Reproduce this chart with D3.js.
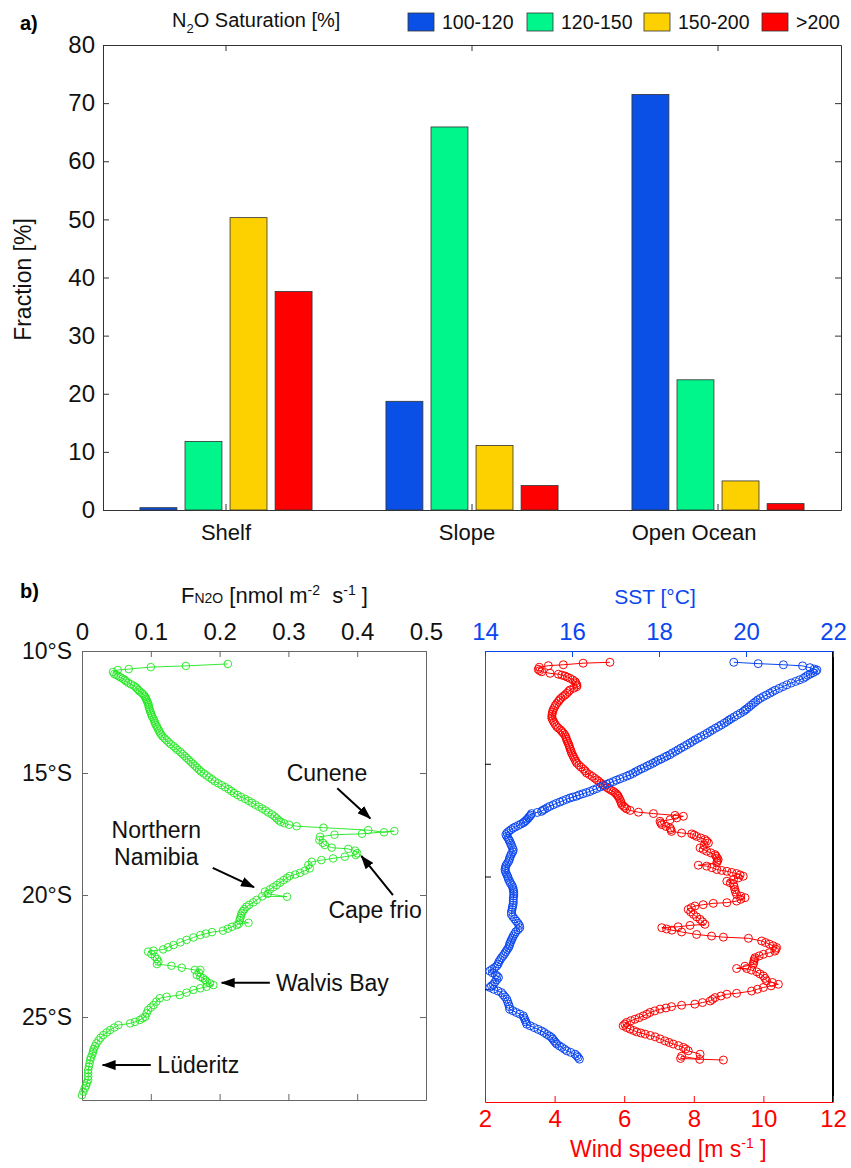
<!DOCTYPE html>
<html>
<head>
<meta charset="utf-8">
<script src="https://cdn.jsdelivr.net/npm/d3@7"></script>
<style>
  body { margin: 0; background: #fff; }
  text { font-family: "Liberation Sans", Arial, sans-serif; }
</style>
</head>
<body>
<svg id="fig" width="851" height="1168"></svg>
<script>
// ---- panel a data ----
const categories = ['Shelf', 'Slope', 'Open Ocean'];
const classes = ['100-120', '120-150', '150-200', '>200'];
const shelf = [0.4, 11.8, 50.3, 37.6];
const slope = [18.7, 65.9, 11.1, 4.2];
const openOcean = [71.5, 22.4, 5.0, 1.1];
const fractionTicks = [0, 10, 20, 30, 40, 50, 60, 70, 80];

// ---- panel b data: [latitude °S, value] ----
const latTicks = [10, 15, 20, 25];
const fluxTicks = [0, 0.1, 0.2, 0.3, 0.4, 0.5];
const sstTicks = [14, 16, 18, 20, 22];
const windTicks = [2, 4, 6, 8, 10, 12];

const n2oFlux = [
  [10.53,0.212],[10.61,0.151],[10.66,0.100],[10.74,0.068],[10.78,0.052],[10.86,0.045],
  [10.94,0.047],[10.98,0.050],[11.03,0.053],[11.08,0.056],[11.13,0.059],[11.18,0.062],[11.24,0.064],
  [11.30,0.067],[11.36,0.071],[11.42,0.075],[11.48,0.078],[11.54,0.080],[11.60,0.082],[11.66,0.084],
  [11.72,0.087],[11.78,0.089],[11.84,0.091],[11.90,0.092],[11.96,0.093],[12.02,0.094],[12.08,0.095],
  [12.15,0.096],[12.22,0.097],[12.30,0.097],[12.38,0.098],[12.46,0.099],[12.54,0.100],[12.62,0.101],
  [12.70,0.102],[12.78,0.104],[12.86,0.105],[12.94,0.106],[13.02,0.107],[13.10,0.109],[13.18,0.110],
  [13.26,0.112],[13.34,0.113],[13.42,0.115],[13.50,0.117],[13.58,0.120],[13.66,0.123],[13.74,0.126],
  [13.82,0.129],[13.90,0.133],[13.98,0.136],[14.06,0.139],[14.14,0.143],[14.22,0.146],[14.30,0.149],
  [14.38,0.152],[14.46,0.155],[14.54,0.158],[14.62,0.161],[14.70,0.164],[14.78,0.167],[14.86,0.170],
  [14.94,0.173],[15.02,0.177],[15.10,0.181],[15.18,0.185],[15.26,0.189],[15.34,0.193],[15.42,0.198],
  [15.50,0.203],[15.58,0.208],[15.66,0.213],[15.74,0.217],[15.82,0.221],[15.90,0.226],[15.98,0.231],
  [16.06,0.237],[16.14,0.242],[16.22,0.247],[16.30,0.252],[16.38,0.257],[16.46,0.262],[16.54,0.267],
  [16.62,0.271],[16.70,0.276],[16.78,0.280],[16.86,0.283],[16.94,0.286],[17.00,0.289],[17.06,0.294],
  [17.12,0.301],[17.18,0.312],[17.24,0.351],[17.34,0.416],[17.43,0.439],[17.38,0.454],[17.49,0.407],
  [17.53,0.367],[17.61,0.346],[17.75,0.345],[17.86,0.350],[17.95,0.353],[18.06,0.363],[18.11,0.387],
  [18.18,0.397],[18.29,0.400],[18.36,0.398],[18.43,0.382],[18.50,0.365],[18.57,0.348],[18.64,0.334],
  [18.77,0.329],[18.91,0.331],[19.00,0.324],[19.09,0.317],[19.16,0.310],[19.22,0.302],[19.30,0.298],
  [19.39,0.293],[19.49,0.288],[19.59,0.283],[19.68,0.278],[19.77,0.273],[19.86,0.266],[19.95,0.270],
  [20.07,0.298],[20.05,0.262],[20.20,0.254],[20.30,0.249],[20.40,0.243],[20.48,0.239],[20.58,0.236],
  [20.66,0.234],[20.75,0.232],[20.85,0.231],[20.95,0.230],[21.04,0.229],[21.14,0.242],[21.18,0.228],
  [21.23,0.225],[21.30,0.218],[21.38,0.212],[21.46,0.205],[21.52,0.189],[21.58,0.180],[21.64,0.172],
  [21.74,0.162],[21.84,0.152],[21.94,0.143],[22.05,0.133],[22.14,0.125],[22.23,0.118],[22.28,0.104],
  [22.32,0.096],[22.42,0.101],[22.53,0.106],[22.62,0.109],[22.73,0.111],[22.83,0.109],[22.90,0.130],
  [22.98,0.145],[23.07,0.164],[23.07,0.172],[23.18,0.170],[23.28,0.167],[23.35,0.172],[23.41,0.176],
  [23.48,0.179],[23.55,0.181],[23.62,0.186],[23.69,0.191],[23.76,0.181],[23.82,0.172],[23.89,0.162],
  [24.00,0.152],[24.10,0.142],[24.17,0.123],[24.23,0.113],[24.37,0.108],[24.51,0.104],[24.61,0.100],
  [24.71,0.096],[24.85,0.094],[24.99,0.092],[25.05,0.088],[25.12,0.084],[25.20,0.077],[25.26,0.070],
  [25.33,0.053],[25.43,0.047],[25.53,0.041],[25.63,0.036],[25.74,0.031],[25.85,0.027],[25.96,0.024],
  [26.08,0.021],[26.20,0.019],[26.31,0.017],[26.42,0.016],[26.53,0.015],[26.65,0.013],[26.76,0.012],
  [26.90,0.011],[27.03,0.010],[27.17,0.009],[27.30,0.009],[27.44,0.009],[27.58,0.009],[27.70,0.007],
  [27.81,0.006],[27.92,0.004],[28.06,0.002],[28.20,0.000]
];

const sst = [
  [10.50,19.72],[10.56,20.28],[10.61,20.86],[10.66,21.30],[10.74,21.47],[10.80,21.57],[10.84,21.63],
  [10.90,21.60],[10.96,21.54],[11.02,21.48],[11.08,21.42],[11.14,21.37],[11.21,21.32],[11.28,21.23],
  [11.35,21.14],[11.42,21.04],[11.50,20.94],[11.58,20.85],[11.66,20.76],[11.74,20.67],[11.80,20.61],
  [11.87,20.55],[11.95,20.47],[12.02,20.40],[12.10,20.33],[12.17,20.27],[12.25,20.22],[12.32,20.17],
  [12.40,20.12],[12.48,20.07],[12.56,20.02],[12.62,19.98],[12.68,19.94],[12.76,19.87],[12.84,19.80],
  [12.92,19.73],[13.00,19.66],[13.06,19.61],[13.13,19.56],[13.20,19.50],[13.28,19.43],[13.35,19.37],
  [13.42,19.30],[13.50,19.23],[13.57,19.17],[13.64,19.11],[13.72,19.04],[13.80,18.96],[13.87,18.90],
  [13.94,18.83],[14.01,18.77],[14.08,18.71],[14.16,18.64],[14.24,18.57],[14.31,18.50],[14.38,18.44],
  [14.45,18.38],[14.52,18.31],[14.60,18.25],[14.66,18.18],[14.72,18.12],[14.79,18.05],[14.85,17.98],
  [14.91,17.92],[14.98,17.86],[15.04,17.79],[15.10,17.73],[15.17,17.66],[15.23,17.59],[15.30,17.52],
  [15.36,17.46],[15.43,17.40],[15.49,17.33],[15.55,17.26],[15.61,17.18],[15.67,17.10],[15.73,17.02],
  [15.79,16.95],[15.85,16.87],[15.91,16.80],[15.97,16.72],[16.03,16.65],[16.10,16.57],[16.16,16.49],
  [16.23,16.41],[16.28,16.33],[16.33,16.25],[16.38,16.17],[16.44,16.10],[16.48,16.02],[16.52,15.95],
  [16.58,15.87],[16.64,15.79],[16.70,15.72],[16.76,15.64],[16.82,15.57],[16.89,15.49],[16.95,15.43],
  [17.02,15.37],[17.06,15.33],[17.11,15.30],[17.16,15.20],[17.21,15.07],[17.28,15.05],[17.34,15.02],
  [17.40,15.00],[17.46,14.97],[17.52,14.94],[17.57,14.91],[17.62,14.88],[17.68,14.82],[17.74,14.76],
  [17.80,14.70],[17.85,14.65],[17.92,14.60],[17.99,14.55],[18.06,14.51],[18.14,14.48],[18.22,14.50],
  [18.30,14.53],[18.37,14.55],[18.44,14.57],[18.53,14.59],[18.62,14.61],[18.72,14.63],[18.81,14.65],
  [18.90,14.64],[18.99,14.61],[19.08,14.59],[19.17,14.57],[19.25,14.56],[19.34,14.54],[19.43,14.51],
  [19.52,14.48],[19.61,14.47],[19.69,14.46],[19.78,14.47],[19.87,14.49],[19.96,14.51],[20.04,14.53],
  [20.13,14.54],[20.22,14.57],[20.31,14.59],[20.40,14.62],[20.49,14.64],[20.58,14.65],[20.67,14.66],
  [20.76,14.66],[20.86,14.66],[20.96,14.65],[21.07,14.65],[21.17,14.65],[21.27,14.64],[21.37,14.63],
  [21.47,14.62],[21.58,14.61],[21.68,14.61],[21.78,14.64],[21.88,14.68],[21.98,14.72],[22.08,14.76],
  [22.17,14.79],[22.27,14.80],[22.36,14.76],[22.45,14.71],[22.55,14.68],[22.64,14.65],[22.73,14.63],
  [22.81,14.61],[22.90,14.59],[22.99,14.57],[23.07,14.56],[23.16,14.54],[23.24,14.51],[23.33,14.48],
  [23.42,14.45],[23.51,14.42],[23.60,14.38],[23.69,14.35],[23.78,14.32],[23.88,14.30],[23.97,14.27],
  [24.04,14.22],[24.12,14.16],[24.19,14.11],[24.27,14.17],[24.36,14.24],[24.42,14.28],[24.48,14.31],
  [24.58,14.27],[24.68,14.23],[24.78,14.19],[24.85,14.15],[24.92,14.11],[25.00,14.20],[25.08,14.30],
  [25.15,14.38],[25.25,14.42],[25.34,14.46],[25.44,14.50],[25.55,14.52],[25.66,14.54],[25.77,14.56],
  [25.88,14.57],[25.95,14.64],[26.03,14.72],[26.10,14.80],[26.18,14.88],[26.27,14.90],[26.36,14.92],
  [26.45,14.94],[26.55,14.96],[26.62,15.04],[26.70,15.13],[26.78,15.22],[26.85,15.30],[26.92,15.36],
  [27.00,15.42],[27.07,15.48],[27.14,15.53],[27.21,15.56],[27.29,15.59],[27.36,15.62],[27.43,15.65],
  [27.51,15.71],[27.58,15.77],[27.66,15.83],[27.73,15.88],[27.80,15.97],[27.88,16.07],[27.95,16.11],
  [28.02,16.14],[28.10,16.17]
];

const windSpeed = [
  [10.50,5.59],[10.54,4.82],[10.61,4.25],[10.65,3.82],[10.72,3.56],[10.81,3.53],[10.87,3.57],
  [10.92,3.63],[10.99,3.87],[11.03,4.11],[11.07,4.21],[11.11,4.30],[11.16,4.37],[11.21,4.44],
  [11.28,4.52],[11.36,4.59],[11.44,4.62],[11.51,4.64],[11.58,4.64],[11.65,4.55],[11.73,4.44],
  [11.80,4.40],[11.88,4.35],[11.95,4.30],[12.02,4.24],[12.10,4.18],[12.17,4.14],[12.24,4.11],
  [12.33,4.06],[12.42,4.02],[12.52,3.99],[12.61,3.96],[12.70,3.94],[12.80,3.93],[12.89,3.92],
  [12.98,3.92],[13.07,3.95],[13.16,3.98],[13.26,4.02],[13.35,4.06],[13.42,4.11],[13.50,4.17],
  [13.57,4.21],[13.64,4.25],[13.72,4.29],[13.81,4.32],[13.90,4.34],[13.99,4.36],[14.08,4.39],
  [14.17,4.41],[14.26,4.43],[14.35,4.45],[14.44,4.47],[14.53,4.49],[14.62,4.52],[14.71,4.55],
  [14.80,4.58],[14.89,4.61],[14.97,4.64],[15.06,4.70],[15.15,4.76],[15.24,4.83],[15.32,4.88],
  [15.41,4.92],[15.48,5.00],[15.56,5.08],[15.64,5.15],[15.71,5.21],[15.78,5.27],[15.86,5.33],
  [15.93,5.39],[16.00,5.45],[16.06,5.51],[16.12,5.57],[16.18,5.63],[16.23,5.69],[16.29,5.74],
  [16.35,5.78],[16.40,5.81],[16.45,5.83],[16.54,5.86],[16.63,5.89],[16.72,5.91],[16.81,5.93],
  [16.88,5.98],[16.94,6.02],[17.00,6.07],[17.07,6.17],[17.15,6.41],[17.21,6.84],[17.29,7.46],
  [17.33,7.70],[17.40,7.51],[17.48,7.32],[17.55,7.03],[17.63,7.05],[17.70,7.08],[17.78,7.20],
  [17.85,7.32],[17.92,7.34],[18.00,7.36],[18.07,7.65],[18.11,7.94],[18.16,8.01],[18.22,8.08],
  [18.29,8.20],[18.36,8.32],[18.43,8.37],[18.51,8.42],[18.62,8.30],[18.73,8.18],[18.80,8.27],
  [18.88,8.37],[18.95,8.49],[19.03,8.61],[19.10,8.64],[19.18,8.67],[19.25,8.70],[19.32,8.68],
  [19.39,8.66],[19.50,8.13],[19.54,8.37],[19.61,8.52],[19.69,8.66],[19.73,8.80],[19.77,8.95],
  [19.82,9.09],[19.87,9.23],[19.93,9.33],[19.99,9.42],[20.06,9.28],[20.13,9.14],[20.21,8.95],
  [20.28,9.05],[20.35,9.14],[20.46,9.16],[20.58,9.18],[20.69,9.20],[20.80,9.23],[20.87,9.35],
  [20.94,9.47],[21.01,9.35],[21.09,9.23],[21.16,8.95],[21.19,8.56],[21.25,8.27],[21.31,8.03],
  [21.38,7.93],[21.46,7.84],[21.57,7.91],[21.68,7.99],[21.79,8.08],[21.90,8.18],[22.01,8.25],
  [22.12,8.32],[22.17,7.89],[22.23,7.55],[22.27,7.08],[22.33,7.22],[22.38,7.37],[22.46,7.65],
  [22.57,8.08],[22.64,8.51],[22.69,8.85],[22.74,9.57],[22.86,9.95],[22.93,10.06],[23.00,10.17],
  [23.07,10.28],[23.15,10.38],[23.23,10.36],[23.31,10.33],[23.38,10.17],[23.45,10.00],[23.52,9.88],
  [23.60,9.76],[23.67,9.74],[23.74,9.73],[23.82,9.72],[23.89,9.71],[23.98,9.47],[24.08,9.23],
  [24.08,9.52],[24.15,9.66],[24.23,9.81],[24.32,9.90],[24.41,10.00],[24.52,10.05],[24.63,10.09],
  [24.70,10.26],[24.78,10.43],[24.85,10.22],[24.92,10.00],[25.00,9.83],[25.08,9.66],[25.18,9.23],
  [25.22,8.95],[25.30,8.78],[25.37,8.61],[25.45,8.54],[25.52,8.47],[25.59,8.25],[25.66,8.03],
  [25.71,7.65],[25.77,7.36],[25.83,7.20],[25.88,7.03],[25.96,6.88],[26.03,6.74],[26.11,6.65],
  [26.18,6.55],[26.26,6.43],[26.33,6.31],[26.40,6.19],[26.47,6.07],[26.55,6.02],[26.62,5.97],
  [26.70,6.07],[26.77,6.17],[26.83,6.27],[26.89,6.36],[26.94,6.48],[26.99,6.60],[27.05,6.75],
  [27.11,6.89],[27.20,7.03],[27.29,7.17],[27.36,7.29],[27.43,7.41],[27.50,7.56],[27.58,7.70],
  [27.65,7.77],[27.73,7.84],[27.88,8.18],[28.11,8.17],[27.97,7.65],[28.07,7.62],[28.14,8.85]
];

// annotations on the flux panel: label at [lat, flux], arrow from -> to
const notes = [
  { lines: ['Cunene'], at: [15.0, 0.356], from: [15.62, 0.371], to: [16.86, 0.419] },
  { lines: ['Northern', 'Namibia'], at: [17.87, 0.108], from: [18.89, 0.190], to: [19.68, 0.250] },
  { lines: ['Cape frio'], at: [20.61, 0.426], from: [20.0, 0.452], to: [18.40, 0.406] },
  { lines: ['Walvis Bay'], at: [23.6, 0.364], from: [23.6, 0.273], to: [23.6, 0.203] },
  { lines: ['Lüderitz'], at: [26.97, 0.169], from: [26.97, 0.100], to: [26.97, 0.030] }
];

const classColors = ['#0a50e6', '#00f58a', '#fdd000', '#ff0000'];
const greenCol = '#1ee61e', blueCol = '#0a46f0', redCol = '#ff0000';
const labelShift = [0, -5, -24];   // category labels sit a bit left of the group centre

const svg = d3.select('#fig');

function styleAxis(g, color, size) {
  g.select('.domain').attr('stroke', color);
  g.selectAll('.tick line').attr('stroke', color);
  g.selectAll('.tick text').attr('fill', color).style('font-size', size + 'px');
}

// ================= panel a =================
const aLeft = 103, aRight = 841, aTop = 45, aBottom = 510;
const x0 = d3.scaleBand().domain(categories).range([aLeft, aRight]);
const x1 = d3.scaleBand().domain(classes).range([0, x0.bandwidth()])
  .paddingInner(0.18).paddingOuter(0.82);
const yA = d3.scaleLinear().domain([0, 80]).range([aBottom, aTop]);
const colorA = d3.scaleOrdinal().domain(classes).range(classColors);

const groups = categories.map((c, i) => ({ cat: c, values: [shelf, slope, openOcean][i] }));

svg.append('g').selectAll('g')
  .data(groups)
  .enter().append('g')
  .attr('transform', d => `translate(${x0(d.cat)},0)`)
  .selectAll('rect')
  .data(d => d.values.map((v, j) => ({ cls: classes[j], v: v })))
  .enter().append('rect')
  .attr('x', d => x1(d.cls))
  .attr('width', x1.bandwidth())
  .attr('y', d => yA(d.v))
  .attr('height', d => yA(0) - yA(d.v))
  .attr('fill', d => colorA(d.cls))
  .attr('stroke', '#333')
  .attr('stroke-width', 0.8);

const axA = '#333';
svg.append('g').attr('transform', `translate(${aLeft},0)`)
  .call(d3.axisLeft(yA).tickValues(fractionTicks).tickSize(-6).tickSizeOuter(0).tickPadding(8))
  .call(g => styleAxis(g, axA, 24))
  .call(g => g.selectAll('.tick text').attr('fill', '#111'));
svg.append('g').attr('transform', `translate(${aRight},0)`)
  .call(d3.axisRight(yA).tickValues(fractionTicks).tickSize(-6).tickSizeOuter(0).tickFormat(''))
  .call(g => styleAxis(g, axA, 24));
svg.append('g').attr('transform', `translate(0,${aTop})`)
  .call(d3.axisTop(x0).tickSize(-6).tickSizeOuter(0).tickFormat(''))
  .call(g => styleAxis(g, axA, 24));
svg.append('g').attr('transform', `translate(0,${aBottom})`)
  .call(d3.axisBottom(x0).tickSize(-6).tickSizeOuter(0).tickPadding(14))
  .call(g => styleAxis(g, '#111', 22))
  .call(g => g.select('.domain').attr('stroke', axA))
  .call(g => g.selectAll('.tick line').attr('stroke', axA))
  .call(g => g.selectAll('.tick text').attr('dx', (d, i) => labelShift[i]));

svg.append('text')
  .attr('transform', `translate(31,${(aTop + aBottom) / 2 + 2}) rotate(-90)`)
  .attr('text-anchor', 'middle')
  .style('font-size', '23px').attr('fill', '#111')
  .text('Fraction [%]');

svg.append('text').attr('x', 20).attr('y', 30)
  .style('font-size', '20px').style('font-weight', 'bold').text('a)');

// legend title
const ttl = svg.append('text').attr('x', 172).attr('y', 27).style('font-size', '20px').attr('fill', '#111');
ttl.append('tspan').text('N');
ttl.append('tspan').attr('dy', 6).style('font-size', '13px').text('2');
ttl.append('tspan').attr('dy', -6).text('O Saturation [%]');

const legend = svg.append('g').selectAll('g')
  .data(classes)
  .enter().append('g')
  .attr('transform', (d, i) => `translate(${[408, 527, 644, 762][i]},13)`);
legend.append('rect')
  .attr('width', 26).attr('height', 18)
  .attr('fill', d => colorA(d))
  .attr('stroke', '#333').attr('stroke-width', 0.8);
legend.append('text')
  .attr('x', 34).attr('y', 16)
  .style('font-size', '19.5px').attr('fill', '#111')
  .text(d => d);

// ================= panel b =================
svg.append('text').attr('x', 20).attr('y', 598)
  .style('font-size', '20px').style('font-weight', 'bold').text('b)');

svg.append('defs').append('marker')
  .attr('id', 'arrow')
  .attr('markerUnits', 'userSpaceOnUse')
  .attr('markerWidth', 14).attr('markerHeight', 10)
  .attr('refX', 13).attr('refY', 5)
  .attr('orient', 'auto')
  .append('path').attr('d', 'M0,0 L14,5 L0,10 Z').attr('fill', '#000');

// --- left: N2O flux ---
const bL = 82, bR = 426, bT = 651, bB = 1100;
const fx = d3.scaleLinear().domain([0, 0.5]).range([bL, bR]);
const fy = d3.scaleLinear().domain([10, 28.4]).range([bT, bB]);
const axB = '#666';

svg.append('g').attr('transform', `translate(0,${bT})`)
  .call(d3.axisTop(fx).tickValues(fluxTicks).tickSize(-6).tickSizeOuter(0).tickPadding(11)
    .tickFormat(d => d === 0 ? '0' : d3.format('.1f')(d)))
  .call(g => styleAxis(g, axB, 24))
  .call(g => g.selectAll('.tick text').attr('fill', '#111'));
svg.append('g').attr('transform', `translate(0,${bB})`)
  .call(d3.axisBottom(fx).tickValues(fluxTicks).tickSize(-6).tickSizeOuter(0).tickFormat(''))
  .call(g => styleAxis(g, axB, 24));
svg.append('g').attr('transform', `translate(${bL},0)`)
  .call(d3.axisLeft(fy).tickValues(latTicks).tickSize(-6).tickSizeOuter(0).tickPadding(10)
    .tickFormat(d => d + '°S'))
  .call(g => styleAxis(g, axB, 23))
  .call(g => g.selectAll('.tick text').attr('fill', '#111'));
svg.append('g').attr('transform', `translate(${bR},0)`)
  .call(d3.axisRight(fy).tickValues(latTicks).tickSize(-6).tickSizeOuter(0).tickFormat(''))
  .call(g => styleAxis(g, axB, 24));

const fluxLine = d3.line().x(d => fx(d[1])).y(d => fy(d[0]));
svg.append('path').datum(n2oFlux)
  .attr('d', fluxLine).attr('fill', 'none')
  .attr('stroke', greenCol).attr('stroke-width', 0.9);
svg.append('g').selectAll('circle')
  .data(n2oFlux).enter().append('circle')
  .attr('cx', d => fx(d[1])).attr('cy', d => fy(d[0])).attr('r', 3.8)
  .attr('fill', 'none').attr('stroke', greenCol).attr('stroke-width', 0.9);

const fl = svg.append('text').attr('x', 181).attr('y', 603).style('font-size', '22px').attr('fill', '#111');
fl.append('tspan').text('F');
fl.append('tspan').style('font-size', '14px').text('N2O');
fl.append('tspan').text(' [nmol m');
fl.append('tspan').attr('dy', -8).style('font-size', '14px').text('-2');
fl.append('tspan').attr('dy', 8).text('\u00a0 s');
fl.append('tspan').attr('dy', -8).style('font-size', '14px').text('-1');
fl.append('tspan').attr('dy', 8).text(' ]');

const note = svg.append('g').selectAll('g').data(notes).enter().append('g');
note.append('line')
  .attr('x1', d => fx(d.from[1])).attr('y1', d => fy(d.from[0]))
  .attr('x2', d => fx(d.to[1])).attr('y2', d => fy(d.to[0]))
  .attr('stroke', '#000').attr('stroke-width', 2)
  .attr('marker-end', 'url(#arrow)');
note.each(function (d) {
  const t = d3.select(this).append('text')
    .attr('text-anchor', 'middle')
    .style('font-size', '23px').attr('fill', '#111');
  const n = d.lines.length;
  d.lines.forEach((s, i) => {
    t.append('tspan')
      .attr('x', fx(d.at[1]))
      .attr('y', fy(d.at[0]) + 8 + (i - (n - 1) / 2) * 27)
      .text(s);
  });
});

// --- right: SST and wind ---
const cL = 485, cR = 833, cT = 651, cB = 1102;
const sx = d3.scaleLinear().domain([14, 22]).range([cL, cR]);
const wx = d3.scaleLinear().domain([2, 12]).range([cL, cR]);
const ry = d3.scaleLinear().domain([10, 30]).range([cT, cB]);

svg.append('g').attr('transform', `translate(${cL},0)`)
  .call(d3.axisLeft(ry).tickValues([15, 20, 25]).tickSize(-6).tickSizeOuter(0).tickFormat(''))
  .call(g => styleAxis(g, '#555', 22))
  .call(g => g.selectAll('.tick line').attr('stroke', '#000'));
svg.append('line')
  .attr('x1', cR).attr('x2', cR).attr('y1', ry(10)).attr('y2', ry(30))
  .attr('stroke', '#000').attr('stroke-width', 2);
svg.append('g').attr('transform', `translate(0,${cT})`)
  .call(d3.axisTop(sx).tickValues(sstTicks).tickSize(-6).tickSizeOuter(0).tickPadding(11))
  .call(g => styleAxis(g, blueCol, 24));
svg.append('g').attr('transform', `translate(0,${cB})`)
  .call(d3.axisBottom(wx).tickValues(windTicks).tickSize(-6).tickSizeOuter(0).tickPadding(8))
  .call(g => styleAxis(g, redCol, 24));

const sstLine = d3.line().x(d => sx(d[1])).y(d => ry(d[0]));
const windLine = d3.line().x(d => wx(d[1])).y(d => ry(d[0]));

svg.append('path').datum(windSpeed)
  .attr('d', windLine).attr('fill', 'none')
  .attr('stroke', redCol).attr('stroke-width', 1);
svg.append('g').selectAll('circle')
  .data(windSpeed).enter().append('circle')
  .attr('cx', d => wx(d[1])).attr('cy', d => ry(d[0])).attr('r', 4)
  .attr('fill', 'none').attr('stroke', redCol).attr('stroke-width', 1);

svg.append('path').datum(sst)
  .attr('d', sstLine).attr('fill', 'none')
  .attr('stroke', blueCol).attr('stroke-width', 1);
svg.append('g').selectAll('circle')
  .data(sst).enter().append('circle')
  .attr('cx', d => sx(d[1])).attr('cy', d => ry(d[0])).attr('r', 4)
  .attr('fill', 'none').attr('stroke', blueCol).attr('stroke-width', 1);

svg.append('text').attr('x', 655).attr('y', 604)
  .attr('text-anchor', 'middle').style('font-size', '21px').attr('fill', blueCol)
  .text('SST [°C]');

const wl = svg.append('text').attr('x', 570).attr('y', 1157)
  .style('font-size', '23px').attr('fill', redCol);
wl.append('tspan').text('Wind speed [m s');
wl.append('tspan').attr('dy', -9).style('font-size', '14px').text('-1');
wl.append('tspan').attr('dy', 9).text(' ]');
</script>
</body>
</html>
